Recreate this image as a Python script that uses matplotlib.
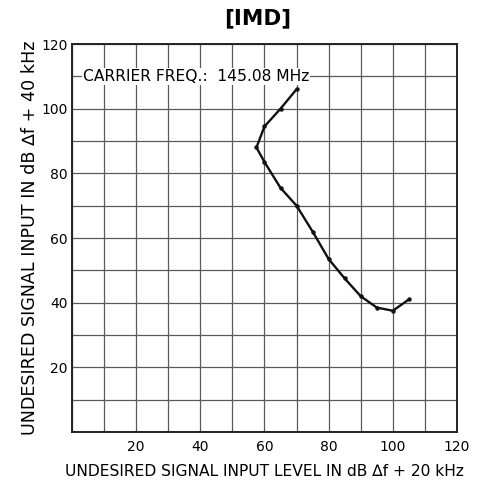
import matplotlib
matplotlib.use("Agg")
import matplotlib.pyplot as plt
import numpy as np

plt.rcParams['font.family'] = ['DejaVu Sans']

# IMD curve, read point by point
level_20k = [70, 65, 60, 57.5, 60, 65, 70, 75, 80, 85, 90, 95, 100, 105]
level_40k = [106, 100, 94.5, 88, 83.5, 75.5, 70, 62, 53.5, 47.5, 42, 38.5, 37.5, 41]

tick_vals = [20, 40, 60, 80, 100, 120]

fig = plt.figure(figsize=(4.81, 4.82), dpi=100)
ax = fig.add_axes([0.1497, 0.1037, 0.8003, 0.805])

ax.set_xlim(0, 120)
ax.set_ylim(0, 120)
ax.set_xticks(np.arange(0, 121, 10), minor=True)
ax.set_yticks(np.arange(0, 121, 10), minor=True)
ax.set_xticks(tick_vals)
ax.set_yticks(tick_vals)
ax.grid(True, which='both', color='#5a5a5a', lw=0.9)
ax.tick_params(which='both', length=0, labelsize=10, pad=6)
ax.tick_params(axis='y', pad=3)
for s in ax.spines.values():
    s.set_linewidth(1.4)
    s.set_color('#222222')

ax.plot(level_20k, level_40k, color='#111111', lw=1.7, marker='o', ms=2.2, zorder=3)

ax.text(3.3, 110, 'CARRIER FREQ.:  145.08 MHz', fontsize=11.2, va='center', ha='left',
        bbox=dict(facecolor='white', edgecolor='none', pad=0.8), zorder=4)

fig.text(0.535, 0.962, '[IMD]', fontsize=15.5, fontweight='bold', ha='center', va='center')
ax.set_xlabel('UNDESIRED SIGNAL INPUT LEVEL IN dB \u2206f + 20 kHz', fontsize=11.2, labelpad=7)
ax.set_ylabel('UNDESIRED SIGNAL INPUT IN dB \u2206f + 40 kHz', fontsize=12.6, labelpad=2)

fig.savefig('out.png', dpi=100)
